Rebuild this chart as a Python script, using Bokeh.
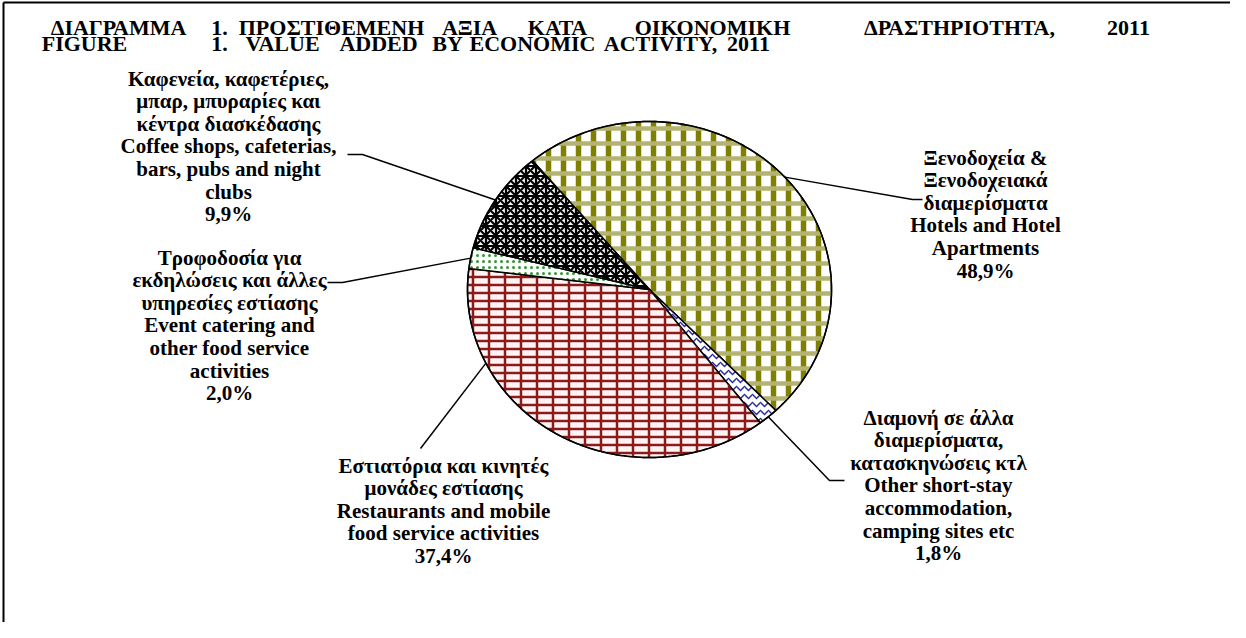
import math
from bokeh.plotting import figure
from bokeh.models import Range1d
from bokeh.core.properties import value
from bokeh.embed import file_html
from bokeh.resources import INLINE

# ---------------- data ----------------
labels_gr = [
    ["Ξενοδοχεία &", "Ξενοδοχειακά", "διαμερίσματα"],
    ["Διαμονή σε άλλα", "διαμερίσματα,", "κατασκηνώσεις κτλ"],
    ["Εστιατόρια και κινητές", "μονάδες εστίασης"],
    ["Τροφοδοσία για", "εκδηλώσεις και άλλες", "υπηρεσίες εστίασης"],
    ["Καφενεία, καφετέριες,", "μπαρ, μπυραρίες και", "κέντρα διασκέδασης"],
]
labels_en = [
    ["Hotels and Hotel", "Apartments"],
    ["Other short-stay", "accommodation,", "camping sites etc"],
    ["Restaurants and mobile", "food service activities"],
    ["Event catering and", "other food service", "activities"],
    ["Coffee shops, cafeterias,", "bars, pubs and night", "clubs"],
]
shares = [48.9, 1.8, 37.4, 2.0, 9.9]
share_text = ["48,9%", "1,8%", "37,4%", "2,0%", "9,9%"]

title_gr = ["ΔΙΑΓΡΑΜΜΑ", "1.", "ΠΡΟΣΤΙΘΕΜΕΝΗ", "ΑΞΙΑ", "ΚΑΤΑ", "ΟΙΚΟΝΟΜΙΚΗ", "ΔΡΑΣΤΗΡΙΟΤΗΤΑ,", "2011"]
title_en = ["FIGURE", "1.", "VALUE", "ADDED", "BY", "ECONOMIC", "ACTIVITY,", "2011"]

# ---------------- layout ----------------
W, H = 1230, 622
CX, CY, RX, RY = 657, 297, 182, 168
FIRST = 320.0
FONT = value("Liberation Serif")

p = figure(width=W, height=H, output_backend="svg", toolbar_location=None,
           x_range=Range1d(8, 8 + W), y_range=Range1d(8 + H, 8),
           min_border=0, outline_line_color=None, background_fill_color="white",
           border_fill_color="white")
p.axis.visible = False
p.grid.visible = False

# frame (left and top edges of the chart area)
p.line([11, 1250], [10, 10], line_color="black", line_width=2)
p.line([11, 11], [10, 640], line_color="black", line_width=2)

def pt(deg, f=1.0):
    t = math.radians(deg)
    return CX + f * RX * math.sin(t), CY - f * RY * math.cos(t)

styles = [
    [dict(fill_color="white", hatch_pattern="vertical_line", hatch_color="#808000", hatch_weight=5.5, hatch_scale=15),
     dict(fill_alpha=0, hatch_pattern="horizontal_line", hatch_color="#b4b470", hatch_weight=4.5, hatch_scale=15)],
    [dict(fill_color="white", hatch_pattern="horizontal_wave", hatch_color="#2b2ba0", hatch_weight=1.5, hatch_scale=8)],
    [dict(fill_color="#fff4f4", hatch_pattern="horizontal_line", hatch_color="#8b1a1a", hatch_weight=2.5, hatch_scale=8),
     dict(fill_alpha=0, hatch_pattern="vertical_line", hatch_color="#8b1a1a", hatch_weight=2.5, hatch_scale=16)],
    [dict(fill_color="white", hatch_pattern="dot", hatch_color="#2e9a2e", hatch_weight=1.5, hatch_scale=6)],
    [dict(fill_color="#f2f2f2", hatch_pattern="criss_cross", hatch_color="black", hatch_weight=2.2, hatch_scale=10)],
]

total = sum(shares)
start = FIRST
mids = []
for i, s in enumerate(shares):
    span = 360.0 * s / total
    n = max(3, int(span * 2))
    xs, ys = [CX], [CY]
    for k in range(n + 1):
        x, y = pt(start + span * k / n)
        xs.append(x); ys.append(y)
    for j, st in enumerate(styles[i]):
        lc = "black" if j == 0 else None
        p.patch(xs, ys, line_color=lc, line_width=1.5, **st)
    mids.append(start + span / 2)
    start += span

# outline ellipse
ox, oy = zip(*[pt(a) for a in range(0, 361)])
p.line(list(ox), list(oy), line_color="black", line_width=1.5)

# leaders: start point on slice mid angle, then elbow + end (layout)
leader_tail = [
    [(920, 207), (930, 207)],
    [(837, 488), (852, 488)],
    [(428, 456)],
    [(350, 290), (335, 290)],
    [(370, 162), (355, 162)],
]
leader_angle_override = {2: 244.0}
for i, tail in enumerate(leader_tail):
    a = leader_angle_override.get(i, mids[i])
    x0, y0 = pt(a)
    xs = [x0] + [t[0] for t in tail]
    ys = [y0] + [t[1] for t in tail]
    p.line(xs, ys, line_color="black", line_width=1.5)

# labels
label_pos = [(993, 165), (946, 425), (451, 473), (237, 265), (236, 86)]
LH = 22.6
for i in range(len(shares)):
    lines = labels_gr[i] + labels_en[i] + [share_text[i]]
    x, y = label_pos[i]
    p.text([x] * len(lines), [y + k * LH for k in range(len(lines))], text=lines,
           text_font=FONT, text_font_style="bold", text_font_size="21px",
           text_align="center", text_baseline="middle", text_color="black")

# title (word centres, justified first line)
tx_gr = [126, 227, 339, 477, 565, 720, 967, 1136]
p.text(tx_gr, [35] * len(tx_gr), text=title_gr, text_font=FONT, text_font_style="bold",
       text_font_size="22px", text_align="center", text_baseline="alphabetic", text_color="black")
tx_en = [92, 227, 290, 386, 455, 540, 668, 756]
p.text(tx_en, [51] * len(tx_en), text=title_en, text_font=FONT, text_font_style="bold",
       text_font_size="22px", text_align="center", text_baseline="alphabetic", text_color="black")

open("out.html", "w").write(file_html(p, INLINE))
